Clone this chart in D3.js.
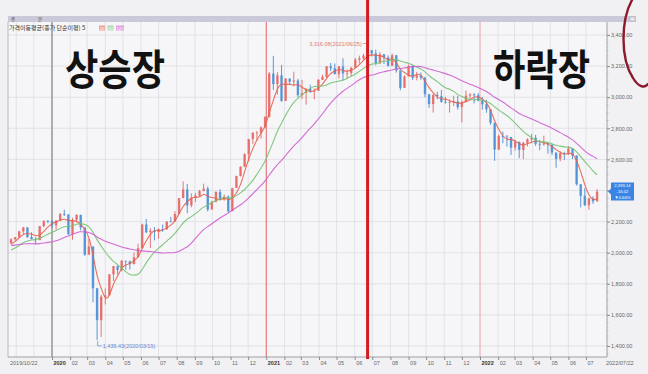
<!DOCTYPE html>
<html><head><meta charset="utf-8">
<script src="https://cdn.jsdelivr.net/npm/d3@7"></script>
<style>
body{margin:0;background:#f1f1f4;}
svg{display:block;}
</style></head>
<body><svg id="c" width="648" height="374"></svg>
<script>
// ---- DATA (weekly KOSPI) ----
const firstWeekEnd = "2019-10-25";
// weekly closes before the visible range (used only to seed the moving averages)
const priorCloses = [2196,2108,2056,2045,2041,2072,2095,2126,2130,2110,2086,2094,2066,1998,1943,1927,1948,1967,2010,2049,2091,2049,2020,2044,2060];
const closes = [
2086,2100,2137,2162,2101,2087,2081,2171,2205,2204,
2176,2206,2250,2246,2119,2212,2243,2162,1987,2040,1771,1566,1717,1725,1861,1914,1889,1948,1945,1927,1970,2029,2181,2132,2141,2134,2152,2150,2201,2200,2249,2351,2407,2304,2353,2368,2396,2412,2278,2327,2391,2341,2360,2267,2416,2493,2553,2633,2731,2770,2772,2806,2873,
3152,3085,3141,2976,3120,3100,3107,3013,3027,3054,3039,3041,3112,3131,3199,3186,3148,3198,3153,3156,3189,3241,3250,3268,3302,3282,3218,3276,3255,3202,3270,3172,3060,3133,3201,3125,3140,3125,3019,2956,3015,3007,2970,2969,2969,2972,2936,2968,3010,3018,3012,2978,
2954,2922,2835,2663,2750,2747,2744,2676,2713,2661,2707,2729,2739,2700,2696,2704,2695,2644,2604,2639,2638,2670,2625,2440,2366,2305,2350,2330,2393];
const highs = [
2094,2101,2142,2166,2164,2131,2100,2172,2206,2210,
2208,2208,2254,2277,2200,2225,2247,2245,2139,2088,1994,1774,1730,1770,1862,1915,1917,1953,1948,1949,2001,2058,2187,2217,2157,2164,2157,2181,2201,2230,2267,2352,2458,2442,2382,2385,2404,2444,2425,2334,2394,2408,2375,2369,2417,2495,2555,2640,2731,2777,2784,2812,2878,
3162,3266,3161,3208,3122,3115,3164,3119,3111,3057,3080,3056,3116,3145,3200,3220,3217,3200,3250,3179,3195,3252,3267,3279,3316,3303,3306,3290,3277,3269,3280,3267,3169,3141,3210,3207,3163,3159,3131,3015,3019,3035,3047,3001,2985,3010,3010,2979,3043,3026,3025,3026,
3001,2983,2924,2833,2761,2779,2757,2727,2727,2714,2713,2736,2764,2758,2725,2753,2705,2698,2644,2653,2650,2685,2670,2598,2420,2416,2353,2363,2409];
const lows = [
2061,2077,2096,2121,2094,2086,2054,2081,2163,2190,
2163,2148,2205,2236,2116,2083,2195,2143,1980,1991,1681,1439,1458,1667,1752,1818,1860,1880,1891,1891,1924,1986,2049,2126,2030,2079,2089,2134,2148,2196,2207,2249,2350,2254,2292,2326,2363,2398,2265,2286,2324,2337,2334,2256,2270,2418,2490,2555,2588,2700,2721,2733,2810,
2869,3047,3016,2970,2986,3082,3070,3000,2988,2952,3027,2987,3043,3110,3122,3168,3147,3120,3109,3121,3136,3193,3217,3241,3243,3262,3205,3213,3213,3196,3206,3158,3044,3076,3137,3111,3108,3111,2999,2932,2901,2986,2965,2959,2901,2943,2920,2837,2971,2985,2960,2974,
2920,2900,2823,2591,2670,2704,2682,2629,2656,2608,2602,2683,2713,2687,2659,2688,2637,2628,2546,2588,2596,2628,2602,2432,2291,2301,2276,2314,2329];
const maWeeks = [4, 12, 24];          // weekly equivalents of the 20/60/120-day averages
const maNames = ["20", "60", "120"];
const yTicks = [1400,1600,1800,2000,2200,2400,2600,2800,3000,3200,3400];
const startLabel = "2019/10/22";
const endLabel = "2022/07/22";
const peakValue = 3316.08, peakDate = "2021-06-25", peakText = "3,316.08(2021/06/25)";
const lowValue = 1439.43, lowDate = "2020-03-19", lowText = "1,439.43(2020/03/19)";
const lastBox = ["2,393.14", "-16.02", "▼0.66%"];
const legendText = "가격이동평균(종가 단순이평) 5";
const phaseLabels = ["상승장", "하락장"];
const phaseSplitDate = "2021-06-23";

// ---- SETUP ----
const svg = d3.select("#c");
const W = 648, H = 374;
const pL = 8, pR = 607, pT = 22, pB = 357;
const parse = d3.timeParse("%Y-%m-%d");
const x = d3.scaleTime().domain([new Date(2020,0,1), new Date(2022,0,1)]).range([52, 480]);
const y = d3.scaleLinear().domain([1400, 3400]).range([346, 35]);

const wEnd0 = parse(firstWeekEnd);
const data = closes.map((c, i) => {
  const open = i === 0 ? priorCloses[priorCloses.length-1] : closes[i-1];
  return {date: d3.timeDay.offset(wEnd0, 7*i - 2), open, close: c,
          high: Math.max(highs[i], open, c), low: Math.min(lows[i], open, c)};
});
const allCloses = priorCloses.concat(closes);
const off = priorCloses.length;
const maSeries = maWeeks.map(n => data.map((d, i) => ({date: d.date, v: d3.mean(allCloses.slice(off+i-n+1, off+i+1))})));
const last = data[data.length-1];
const by = y(last.close);

// background
svg.append("rect").attr("width", W).attr("height", H).attr("fill", "#f1f1f4");
svg.append("rect").attr("x", pL).attr("y", pT).attr("width", pR-pL).attr("height", pB-pT).attr("fill", "#f6f6f8");

// header bar
svg.append("rect").attr("x", pL).attr("y", 16).attr("width", 628).attr("height", 6).attr("fill", "#c9c9da");
svg.append("rect").attr("x", 630).attr("y", 17).attr("width", 5).attr("height", 4).attr("fill", "#e8e8ee").attr("stroke","#999").attr("stroke-width",0.4);
svg.append("text").attr("x", 11).attr("y", 21).attr("font-size", 4.5).attr("fill", "#444").attr("font-family","Noto Sans CJK KR").text("종");
svg.append("text").attr("x", 38).attr("y", 21).attr("font-size", 4.5).attr("fill", "#444").attr("font-family","Noto Sans CJK KR").text("분");

// grid
const months = d3.timeMonth.range(new Date(2019,10,1), new Date(2022,7,1));
svg.append("g").selectAll("line").data(months).join("line")
  .attr("x1", d => x(d)).attr("x2", d => x(d)).attr("y1", pT).attr("y2", pB)
  .attr("stroke", "#dcdde3").attr("stroke-width", 0.8);
svg.append("g").selectAll("line").data(yTicks).join("line")
  .attr("x1", pL).attr("x2", pR).attr("y1", d => y(d)).attr("y2", d => y(d))
  .attr("stroke", "#dcdde3").attr("stroke-width", 0.8);
// year separators
const yearLines = [{d:new Date(2020,0,1), c:"#707070"}, {d:new Date(2021,0,1), c:"#e86a6a"}, {d:new Date(2022,0,1), c:"#f0b0b0"}];
svg.append("g").selectAll("line").data(yearLines).join("line")
  .attr("x1", d => x(d.d)).attr("x2", d => x(d.d)).attr("y1", pT).attr("y2", pB)
  .attr("stroke", d => d.c).attr("stroke-width", 1);

// legend
svg.append("text").attr("x", 9).attr("y", 29.5).attr("font-size", 6).attr("fill", "#333")
  .attr("font-family", "Noto Sans CJK KR").text(legendText);
const maColors = ["#e8604c", "#72c272", "#d05cd0"];
const legBoxes = [{x:99, w:6}, {x:107.5, w:6}, {x:116, w:8}];
maNames.forEach((n, i) => {
  svg.append("rect").attr("x", legBoxes[i].x).attr("y", 25.5).attr("width", legBoxes[i].w).attr("height", 5)
    .attr("fill", maColors[i]).attr("opacity", 0.55);
  svg.append("text").attr("x", legBoxes[i].x + legBoxes[i].w/2).attr("y", 29.6).attr("text-anchor", "middle")
    .attr("font-size", 4.2).attr("fill", "#fff").attr("font-family", "Liberation Sans").text(n);
});

// candles
const cw = 2.4;
const g = svg.append("g");
g.selectAll("line").data(data).join("line")
  .attr("x1", d => x(d.date)).attr("x2", d => x(d.date))
  .attr("y1", d => y(d.high)).attr("y2", d => y(d.low))
  .attr("stroke", d => d.close >= d.open ? "#e06a66" : "#4a8bd0").attr("stroke-width", 0.9);
g.selectAll("rect").data(data).join("rect")
  .attr("x", d => x(d.date) - cw/2).attr("width", cw)
  .attr("y", d => y(Math.max(d.open, d.close)))
  .attr("height", d => Math.max(0.8, Math.abs(y(d.open) - y(d.close))))
  .attr("fill", d => d.close >= d.open ? "#e46c68" : "#4f92d6").attr("opacity", 0.9);

// moving averages
const line = d3.line().x(d => x(d.date)).y(d => y(d.v)).curve(d3.curveBasis);
maSeries.forEach((s, i) => {
  svg.append("path").datum(s).attr("d", line).attr("fill", "none")
    .attr("stroke", maColors[i]).attr("stroke-width", 1.1).attr("opacity", 0.9);
});

// axes
svg.append("line").attr("x1", pL).attr("x2", pL).attr("y1", pT).attr("y2", pB).attr("stroke", "#a8a8b0").attr("stroke-width", 0.8);
svg.append("line").attr("x1", pL).attr("x2", pR).attr("y1", pB).attr("y2", pB).attr("stroke", "#8a8a92").attr("stroke-width", 0.8);
svg.append("line").attr("x1", pR).attr("x2", pR).attr("y1", pT).attr("y2", pB).attr("stroke", "#8a8a92").attr("stroke-width", 0.8);

const yAxis = d3.axisRight(y).tickValues(yTicks).tickSize(3).tickFormat(d3.format(",.2f"));
const ya = svg.append("g").attr("transform", `translate(${pR},0)`).call(yAxis);
ya.select(".domain").remove();
ya.selectAll("line").attr("stroke", "#8a8a92");
ya.selectAll("text").attr("font-size", 5.5).attr("fill", "#666").attr("font-family", "Liberation Sans").attr("x", 4);
// the last-price box covers the tick label behind it, as in the reference
ya.selectAll(".tick").filter(d => Math.abs(y(d) - by) < 10).select("text").remove();
// minor y ticks
svg.append("g").selectAll("line").data(d3.range(1350, 3450, 50)).join("line")
  .attr("x1", pR).attr("x2", pR + 1.5).attr("y1", d => y(d)).attr("y2", d => y(d))
  .attr("stroke", "#9a9aa2").attr("stroke-width", 0.5);

const xMonths = d3.timeMonth.range(new Date(2020,0,1), new Date(2022,7,1));
const fmtYear = d3.timeFormat("%Y"), fmtMon = d3.timeFormat("%m");
const xAxis = d3.axisBottom(x).tickValues(xMonths).tickSize(3)
  .tickFormat(d => d.getMonth() === 0 ? fmtYear(d) : fmtMon(d));
const xa = svg.append("g").attr("transform", `translate(0,${pB})`).call(xAxis);
xa.select(".domain").remove();
xa.selectAll("line").attr("stroke", "#8a8a92");
xa.selectAll("text").attr("font-size", 5.5).attr("fill", d => d.getMonth() === 0 ? "#333" : "#666")
  .attr("font-weight", d => d.getMonth() === 0 ? "bold" : "normal")
  .attr("font-family", "Liberation Sans").attr("text-anchor", "start").attr("dx", 1).attr("y", 4);
svg.append("text").attr("x", 10).attr("y", 365).attr("font-size", 5.5).attr("fill", "#666").attr("font-family", "Liberation Sans").text(startLabel);
svg.append("text").attr("x", 606).attr("y", 365).attr("font-size", 5.5).attr("fill", "#666").attr("font-family", "Liberation Sans").text(endLabel);

// peak / low annotations
const px = x(parse(peakDate)), py = y(peakValue);
svg.append("text").attr("x", px - 7).attr("y", 45.5).attr("text-anchor", "end").attr("font-size", 5.5)
  .attr("fill", "#e07a68").attr("font-family", "Liberation Sans").text(peakText);
svg.append("line").attr("x1", px - 6).attr("x2", px - 1).attr("y1", 43.5).attr("y2", 43.5).attr("stroke", "#e07a68").attr("stroke-width", 0.7);
const lx = x(parse(lowDate)), ly = y(lowValue);
svg.append("path").attr("d", `M${lx},${ly + 1}V${ly + 6}H${lx + 4}`).attr("fill", "none").attr("stroke", "#5a8ad0").attr("stroke-width", 0.7);
svg.append("text").attr("x", lx + 5).attr("y", ly + 7.8).attr("font-size", 5.5).attr("fill", "#5a8ad0")
  .attr("font-family", "Liberation Sans").text(lowText);

// last price box
svg.append("path").attr("d", `M${pR+1},${by} L${pR+4},${by-3} V${by-9} H${pR+27} V${by+9} H${pR+4} V${by+3} Z`).attr("fill", "#3c84e4");
lastBox.forEach((t, i) => {
  svg.append("text").attr("x", pR + 15.5).attr("y", by - 4.2 + i*5.6).attr("text-anchor", "middle")
    .attr("font-size", 4.2).attr("fill", "#fff").attr("font-family", "Liberation Sans").text(t);
});

// phase divider
const sx = x(parse(phaseSplitDate));
svg.append("line").attr("x1", sx).attr("x2", sx).attr("y1", 0).attr("y2", pB + 2).attr("stroke", "#d41c20").attr("stroke-width", 3);

// phase labels
svg.append("text").attr("x", 65).attr("y", 85).attr("font-size", 42).attr("font-weight", "bold")
  .attr("font-family", "Noto Sans CJK KR").attr("fill", "#111")
  .attr("textLength", 100).attr("lengthAdjust", "spacingAndGlyphs").text(phaseLabels[0]);
svg.append("text").attr("x", 493).attr("y", 85).attr("font-size", 42).attr("font-weight", "bold")
  .attr("font-family", "Noto Sans CJK KR").attr("fill", "#111")
  .attr("textLength", 97).attr("lengthAdjust", "spacingAndGlyphs").text(phaseLabels[1]);

// hand-drawn circle mark on the top right
svg.append("path").attr("d", "M632,0 C621,20 620,58 633,78 C639,88 645,88 648,84")
  .attr("fill", "none").attr("stroke", "#8e1b2c").attr("stroke-width", 2.4).attr("stroke-linecap", "round");
</script>
</body></html>
